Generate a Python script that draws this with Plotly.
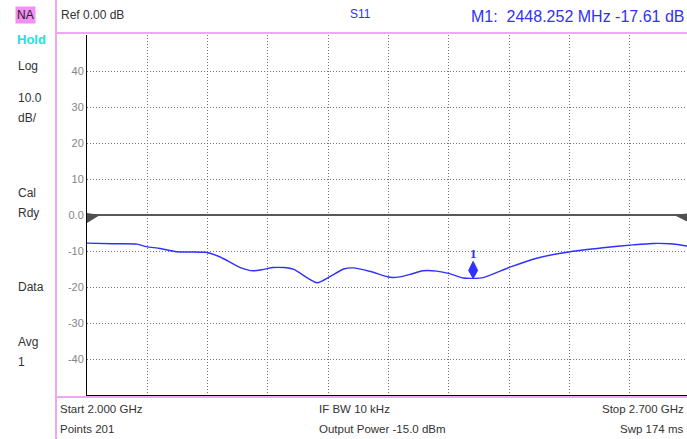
import plotly.graph_objects as go

# ---- data ----
freq_mhz = [2000, 2030, 2058, 2069, 2085, 2104, 2139, 2154, 2178, 2193, 2205, 2216, 2228,
            2240, 2267, 2282, 2298, 2309, 2329, 2352, 2363, 2375, 2390, 2406, 2421, 2437,
            2448, 2460, 2491, 2522, 2561, 2599, 2634, 2657, 2677, 2696, 2700]
s11_db = [-7.8, -8.0, -8.1, -8.8, -9.3, -10.2, -10.4, -11.6, -14.6, -15.5, -15.1, -14.6, -14.6,
          -15.1, -18.8, -17.1, -15.0, -14.7, -15.7, -17.3, -17.2, -16.5, -15.5, -15.6, -16.3, -17.5,
          -17.6, -17.4, -14.5, -12.0, -10.2, -9.1, -8.3, -7.9, -8.0, -8.6, -8.8]

y_tick_vals = [40, 30, 20, 10, 0, -10, -20, -30, -40]
y_tick_text = ["40", "30", "20", "10", "0.0", "-10", "-20", "-30", "-40"]

start_mhz = 2000
stop_mhz = 2700
ref_level = 0.0
marker_f = 2448.252
marker_db = -17.61
n_points = 201
ifbw_khz = 10
power_dbm = -15.0
sweep_ms = 174

left_labels = ["Log", "10.0", "dB/", "Cal", "Rdy", "Data", "Avg", "1"]

# ---- figure ----
BLUE = "#3030ff"
FONT = "Liberation Sans"
span = stop_mhz - start_mhz
x_end = start_mhz + span * 600 / 603  # last division partly off-screen

fig = go.Figure()
fig.add_trace(go.Scatter(x=freq_mhz, y=s11_db, mode="lines",
                         line=dict(color=BLUE, width=1.4, shape="spline", smoothing=0.7),
                         hoverinfo="skip", showlegend=False))

fig.update_layout(
    width=687, height=439,
    margin=dict(l=87, r=0, t=35, b=44),
    paper_bgcolor="white", plot_bgcolor="white",
    showlegend=False,
    font=dict(family=FONT, size=12, color="#333333"),
    xaxis=dict(range=[start_mhz, x_end], tick0=start_mhz, dtick=span / 10,
               showticklabels=False, ticks="", zeroline=False,
               showgrid=True, gridcolor="#707070", gridwidth=1, griddash="1px,2px",
               showline=True, linecolor="#000000", linewidth=1, mirror=False),
    yaxis=dict(range=[-50, 50], tickvals=y_tick_vals, ticktext=y_tick_text,
               ticks="", zeroline=False,
               tickfont=dict(family=FONT, size=11, color="#858585"),
               showgrid=True, gridcolor="#707070", gridwidth=1, griddash="1px,2px",
               showline=True, linecolor="#000000", linewidth=1),
)

shapes = []
# reference line
shapes.append(dict(type="line", xref="paper", x0=0, x1=1, yref="y", y0=ref_level, y1=ref_level,
                   line=dict(color="#585858", width=2), layer="above"))
# reference triangles
shapes.append(dict(type="path", xref="x", yref="y", xsizemode="pixel", ysizemode="pixel",
                   xanchor=start_mhz, yanchor=ref_level, path="M0,2 L13,0 L0,-8 Z",
                   fillcolor="#505050", line=dict(width=0), layer="above"))
shapes.append(dict(type="path", xref="x", yref="y", xsizemode="pixel", ysizemode="pixel",
                   xanchor=stop_mhz, yanchor=ref_level, path="M0,2 L-16,0 L0,-8 Z",
                   fillcolor="#505050", line=dict(width=0), layer="above"))
# marker diamond
shapes.append(dict(type="path", xref="x", yref="y", xsizemode="pixel", ysizemode="pixel",
                   xanchor=marker_f, yanchor=marker_db,
                   path="M0,0 L-4.5,8 L0,17 L4.5,8 Z",
                   fillcolor=BLUE, line=dict(color=BLUE, width=1), layer="above"))
# pink frame lines
PINK = "#f2a6f2"
shapes.append(dict(type="line", xref="paper", yref="paper", x0=-31 / 600, x1=-31 / 600,
                   y0=-44 / 360, y1=395 / 360, line=dict(color=PINK, width=2)))
shapes.append(dict(type="line", xref="paper", yref="paper", x0=-31 / 600, x1=1,
                   y0=362 / 360, y1=362 / 360, line=dict(color=PINK, width=2)))
shapes.append(dict(type="line", xref="paper", yref="paper", x0=-31 / 600, x1=1,
                   y0=-2 / 360, y1=-2 / 360, line=dict(color=PINK, width=2)))
fig.update_layout(shapes=shapes)

ann = []
def px_x(px):
    return (px - 87) / 600
def px_y(py):
    return (395 - py) / 360

# status panel
ann.append(dict(text="NA", x=px_x(15), y=px_y(15), xanchor="left", yanchor="middle",
                bgcolor="#f38ef3", borderpad=1, font=dict(size=12, color="#222222")))
ann.append(dict(text="<b>Hold</b>", x=px_x(15), y=px_y(40), xanchor="left", yanchor="middle",
                font=dict(size=13, color="#22dede")))
left_y = [66, 98, 118, 193, 213, 287, 342, 362]
for t, py in zip(left_labels, left_y):
    ann.append(dict(text=t, x=px_x(16), y=px_y(py), xanchor="left", yanchor="middle",
                    font=dict(size=12, color="#333333")))

# header
ann.append(dict(text=f"Ref {ref_level:.2f} dB", x=px_x(59), y=px_y(15), xanchor="left",
                yanchor="middle", font=dict(size=12, color="#333333")))
ann.append(dict(text="S11", x=px_x(348), y=px_y(14), xanchor="left", yanchor="middle",
                font=dict(size=12, color=BLUE)))
ann.append(dict(text=f"M1:  {marker_f:.3f} MHz {marker_db:.2f} dB", x=px_x(686), y=px_y(17),
                xanchor="right", yanchor="middle", font=dict(size=16, color=BLUE)))

# footer
ann.append(dict(text=f"Start {start_mhz / 1000:.3f} GHz", x=px_x(58), y=px_y(409),
                xanchor="left", yanchor="middle", font=dict(size=11.5, color="#333333")))
ann.append(dict(text=f"Points {n_points}", x=px_x(58), y=px_y(429),
                xanchor="left", yanchor="middle", font=dict(size=11.5, color="#333333")))
ann.append(dict(text=f"IF BW {ifbw_khz} kHz", x=px_x(317), y=px_y(409),
                xanchor="left", yanchor="middle", font=dict(size=11.5, color="#333333")))
ann.append(dict(text=f"Output Power {power_dbm:.1f} dBm", x=px_x(317), y=px_y(429),
                xanchor="left", yanchor="middle", font=dict(size=11.5, color="#333333")))
ann.append(dict(text=f"Stop {stop_mhz / 1000:.3f} GHz", x=px_x(686), y=px_y(409),
                xanchor="right", yanchor="middle", font=dict(size=11.5, color="#333333")))
ann.append(dict(text=f"Swp {sweep_ms} ms", x=px_x(686), y=px_y(429),
                xanchor="right", yanchor="middle", font=dict(size=11.5, color="#333333")))

for a in ann:
    a.update(xref="paper", yref="paper", showarrow=False)

# marker number label
ann.append(dict(text="<b>1</b>", x=marker_f, y=marker_db, xref="x", yref="y", showarrow=False,
                yanchor="bottom", yshift=15, font=dict(family="Liberation Serif", size=13, color=BLUE)))

fig.update_layout(annotations=ann)
fig.write_html("out.html", config={"displayModeBar": False},
               post_script="document.body.style.margin='0';document.body.style.overflow='hidden';")
